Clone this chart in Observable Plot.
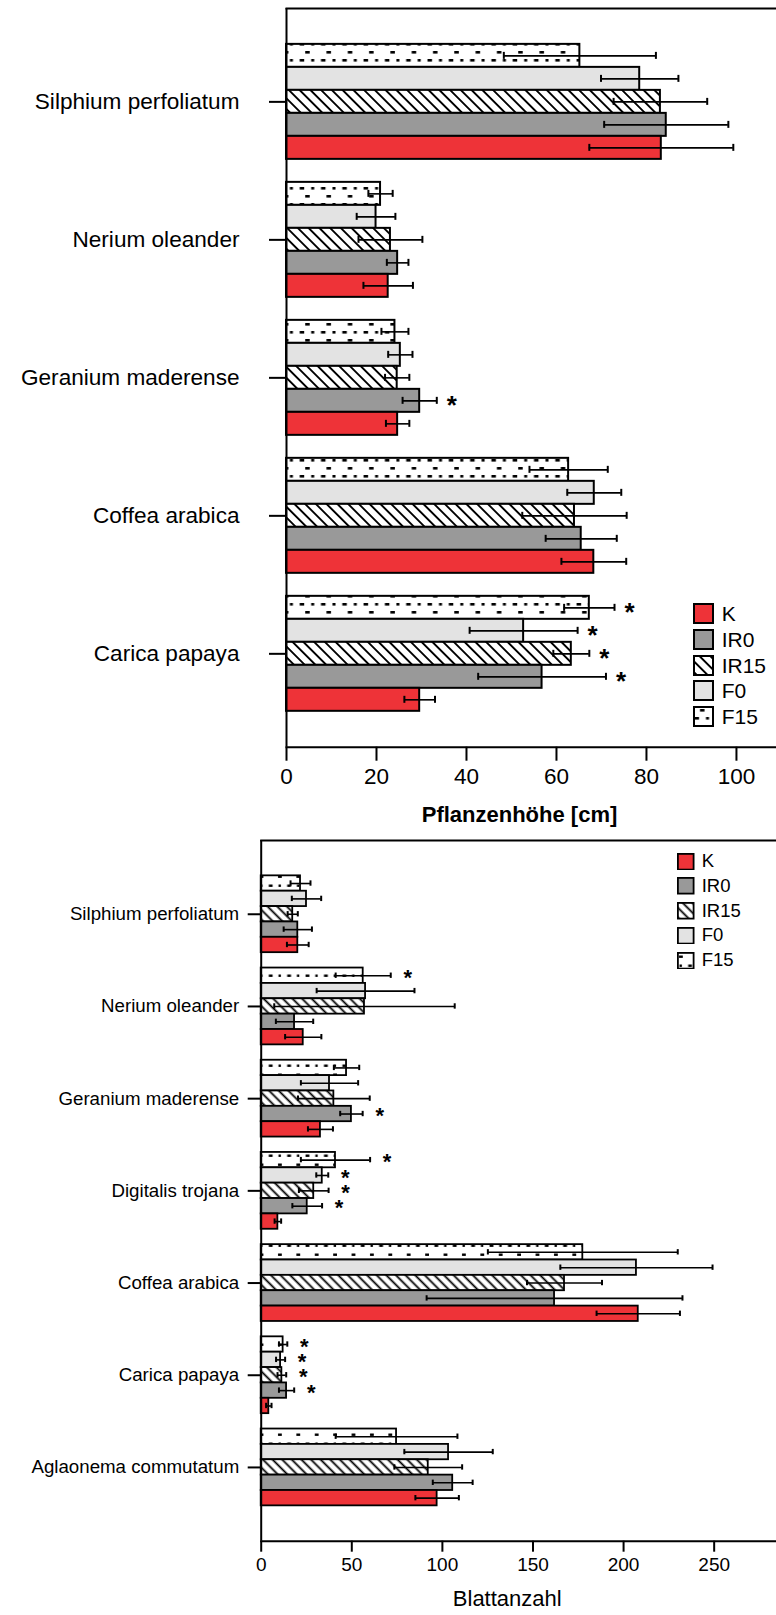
<!DOCTYPE html>
<html>
<head>
<meta charset="utf-8">
<script src="https://cdn.jsdelivr.net/npm/d3@7"></script>
<script src="https://cdn.jsdelivr.net/npm/@observablehq/plot@0.6"></script>
<style>
  html, body { margin: 0; padding: 0; background: #fff; }
  #wrap { position: relative; width: 776px; height: 1615px; font-family: "Liberation Sans", Arial, sans-serif; color: #000; }
  #wrap svg { display: block; }
  .leg { position: absolute; display: flex; align-items: center; white-space: nowrap; }
  .leg svg { display: block; }
</style>
</head>
<body>
<!-- shared fill patterns for the hatched and dotted treatments -->
<svg width="0" height="0" style="position:absolute">
  <defs>
    <pattern id="hatchA" patternUnits="userSpaceOnUse" width="7.6" height="7.6" patternTransform="rotate(-45)">
      <rect width="7.6" height="7.6" fill="#fff"/>
      <line x1="3.8" y1="0" x2="3.8" y2="7.6" stroke="#000" stroke-width="1.9"/>
    </pattern>
    <pattern id="dotsA" patternUnits="userSpaceOnUse" width="21.3" height="16">
      <rect width="21.3" height="16" fill="#fff"/>
      <rect x="7" y="3" width="4.5" height="2.6" fill="#000"/>
      <rect x="1.5" y="11" width="4.5" height="2.6" fill="#000"/>
      <rect x="13" y="11" width="3" height="2.6" fill="#000"/>
    </pattern>
    <pattern id="hatchB" patternUnits="userSpaceOnUse" width="6.8" height="6.8" patternTransform="rotate(-45)">
      <rect width="6.8" height="6.8" fill="#fff"/>
      <line x1="3.4" y1="0" x2="3.4" y2="6.8" stroke="#000" stroke-width="1.8"/>
    </pattern>
    <pattern id="dotsB" patternUnits="userSpaceOnUse" width="18.4" height="18">
      <rect width="18.4" height="18" fill="#fff"/>
      <rect x="2" y="3.5" width="3.8" height="2.4" fill="#000"/>
      <rect x="11.2" y="12.5" width="3.8" height="2.4" fill="#000"/>
      <rect x="2.5" y="12.5" width="2.4" height="2.4" fill="#000"/>
    </pattern>
  </defs>
</svg>
<div id="wrap"></div>
<script>
// Treatments: K = control, IR0/IR15, F0/F15
const treatments = ["K", "IR0", "IR15", "F0", "F15"];
// bars are stacked top-to-bottom in this order inside each species group
const barOrder = ["F15", "F0", "IR15", "IR0", "K"];

// ---- Pflanzenhöhe [cm] ----
const speciesHoehe = ["Silphium perfoliatum", "Nerium oleander", "Geranium maderense", "Coffea arabica", "Carica papaya"];
const hoeheK    = [83.3, 22.6, 24.7, 68.3, 29.6];
const hoeheIR0  = [84.4, 24.7, 29.6, 65.5, 56.8];
const hoeheIR15 = [83.1, 23.1, 24.6, 64.0, 63.3];
const hoeheF0   = [78.5, 19.9, 25.3, 68.4, 52.7];
const hoeheF15  = [65.2, 20.9, 24.1, 62.7, 67.3];
const hoeheSdK    = [16.0, 5.5, 2.6, 7.2, 3.4];
const hoeheSdIR0  = [13.8, 2.4, 3.8, 7.9, 14.2];
const hoeheSdIR15 = [10.4, 7.1, 2.7, 11.6, 4.0];
const hoeheSdF0   = [8.6, 4.3, 2.7, 6.0, 12.0];
const hoeheSdF15  = [16.9, 2.7, 3.0, 8.7, 5.6];
const hoeheSig = [
  ["Geranium maderense", "IR0"],
  ["Carica papaya", "F15"], ["Carica papaya", "F0"], ["Carica papaya", "IR15"], ["Carica papaya", "IR0"]
];
const hoeheTicks = [0, 20, 40, 60, 80, 100];

// ---- Blattanzahl ----
const speciesBlatt = ["Silphium perfoliatum", "Nerium oleander", "Geranium maderense", "Digitalis trojana", "Coffea arabica", "Carica papaya", "Aglaonema commutatum"];
const blattK    = [20.2, 23.2, 32.7, 9.2, 208.1, 4.2, 97.1];
const blattIR0  = [20.2, 18.4, 49.8, 25.4, 161.9, 14.0, 105.7];
const blattIR15 = [17.4, 57.0, 40.1, 29.0, 167.4, 11.4, 92.2];
const blattF0   = [25.0, 57.6, 37.7, 33.7, 207.1, 10.7, 103.4];
const blattF15  = [21.7, 56.3, 47.1, 41.0, 177.5, 12.1, 74.7];
const blattSdK    = [6.0, 10.0, 6.9, 1.8, 23.0, 1.5, 12.0];
const blattSdIR0  = [7.8, 10.3, 6.2, 8.2, 70.6, 4.2, 11.0];
const blattSdIR15 = [2.8, 49.8, 19.8, 8.2, 20.7, 2.4, 18.7];
const blattSdF0   = [8.1, 27.0, 15.8, 3.3, 42.0, 2.5, 24.4];
const blattSdF15  = [5.5, 15.2, 7.0, 19.1, 52.4, 2.3, 33.6];
const blattSig = [
  ["Nerium oleander", "F15"],
  ["Geranium maderense", "IR0"],
  ["Digitalis trojana", "F15"], ["Digitalis trojana", "F0"], ["Digitalis trojana", "IR15"], ["Digitalis trojana", "IR0"],
  ["Carica papaya", "F15"], ["Carica papaya", "F0"], ["Carica papaya", "IR15"], ["Carica papaya", "IR0"]
];
const blattTicks = [0, 50, 100, 150, 200, 250];

// ---- helpers ----
function buildRows(species, meansByT, sdsByT) {
  return species.flatMap((s, i) => barOrder.map(t => ({
    species: s, treatment: t, key: s + "|" + t,
    mean: meansByT[t][i], sd: sdsByT[t][i]
  })));
}
// band domain: one slot per bar, one empty slot between species groups
function buildDomain(species) {
  return species.flatMap((s, i) => (i ? ["gap" + i] : []).concat(barOrder.map(t => s + "|" + t)));
}

const fillsA = ["#ee3338", "#999999", "url(#hatchA)", "#e3e3e3", "url(#dotsA)"];
const fillsB = ["#ee3338", "#999999", "url(#hatchB)", "#e3e3e3", "url(#dotsB)"];
const font = "'Liberation Sans', Arial, Helvetica, sans-serif";

function chart(cfg) {
  const rows = buildRows(cfg.species, cfg.means, cfg.sds);
  const sig = rows.filter(r => cfg.sig.some(([s, t]) => s === r.species && t === r.treatment));
  return Plot.plot({
    width: 776, height: cfg.height,
    marginTop: cfg.marginTop, marginBottom: cfg.marginBottom,
    marginLeft: cfg.marginLeft, marginRight: 0,
    style: {fontFamily: font, color: "#000", background: "transparent", overflow: "visible"},
    x: {domain: cfg.xDomain},
    y: {domain: buildDomain(cfg.species), paddingInner: 0, paddingOuter: cfg.padOuter, round: false},
    color: {type: "ordinal", domain: treatments, range: cfg.fills},
    marks: [
      Plot.barX(rows, {y: "key", x: "mean", fill: "treatment", stroke: "#000", strokeWidth: cfg.barStroke}),
      Plot.ruleY(rows, {y: "key", x1: d => d.mean - d.sd, x2: d => d.mean + d.sd, stroke: "#000", strokeWidth: 1.6}),
      Plot.tickX(rows, {y: "key", x: d => d.mean - d.sd, insetTop: cfg.capInset, insetBottom: cfg.capInset, stroke: "#000", strokeWidth: 2}),
      Plot.tickX(rows, {y: "key", x: d => d.mean + d.sd, insetTop: cfg.capInset, insetBottom: cfg.capInset, stroke: "#000", strokeWidth: 2}),
      Plot.text(sig, {y: "key", x: d => d.mean + d.sd, text: () => "*", dx: cfg.starDx, dy: cfg.starDy,
        fontSize: cfg.starSize, fontWeight: "bold", fill: "#000"}),
      Plot.ruleX([0], {stroke: "#000", strokeWidth: 2}),
      Plot.frame({anchor: "top", stroke: "#000", strokeWidth: 2}),
      Plot.frame({anchor: "bottom", stroke: "#000", strokeWidth: 2}),
      Plot.axisX({ticks: cfg.ticks, tickSize: cfg.xTickSize, tickPadding: cfg.xTickPadding,
        fontSize: cfg.xFont, label: null, strokeWidth: 2}),
      Plot.axisY({ticks: cfg.species.map(s => s + "|IR15"), tickFormat: k => k.split("|")[0],
        tickSize: cfg.yTickSize, tickPadding: cfg.yTickPadding, fontSize: cfg.yFont, label: null, strokeWidth: 2}),
      Plot.text([cfg.title], {text: d => d, frameAnchor: "bottom", dx: cfg.titleDx, dy: cfg.titleDy,
        fontSize: 22, fontWeight: cfg.titleWeight, fill: "#000"})
    ]
  });
}

const wrap = document.getElementById("wrap");

wrap.append(chart({
  species: speciesHoehe,
  means: {K: hoeheK, IR0: hoeheIR0, IR15: hoeheIR15, F0: hoeheF0, F15: hoeheF15},
  sds: {K: hoeheSdK, IR0: hoeheSdIR0, IR15: hoeheSdIR15, F0: hoeheSdF0, F15: hoeheSdF15},
  sig: hoeheSig, ticks: hoeheTicks, fills: fillsA,
  height: 836, marginTop: 8, marginBottom: 89.3, marginLeft: 286,
  xDomain: [0, 108.9], padOuter: 1.56, barStroke: 2, capInset: 8,
  starDx: 15, starDy: 5, starSize: 26,
  xTickSize: 14, xTickPadding: 7, xFont: 22.5,
  yTickSize: 17, yTickPadding: 30, yFont: 22.6,
  title: "Pflanzenhöhe [cm]", titleDx: -12, titleDy: 75, titleWeight: "bold"
}));

wrap.append(chart({
  species: speciesBlatt,
  means: {K: blattK, IR0: blattIR0, IR15: blattIR15, F0: blattF0, F15: blattF15},
  sds: {K: blattSdK, IR0: blattSdIR0, IR15: blattSdIR15, F0: blattSdF0, F15: blattSdF15},
  sig: blattSig, ticks: blattTicks, fills: fillsB,
  height: 779, marginTop: 4, marginBottom: 74.3, marginLeft: 260.7,
  xDomain: [0, 284.4], padOuter: 2.3, barStroke: 1.8, capInset: 5,
  starDx: 17, starDy: 2, starSize: 22,
  xTickSize: 11, xTickPadding: 5, xFont: 19,
  yTickSize: 13, yTickPadding: 9, yFont: 18.7,
  title: "Blattanzahl", titleDx: -11.6, titleDy: 64.3, titleWeight: "normal"
}));

// legends drawn inside the plot areas
function legend(fills, left, top, step, box, stroke, labelLeft, fontSize) {
  treatments.forEach((t, i) => {
    const item = document.createElement("div");
    item.className = "leg";
    item.style.left = left + "px";
    item.style.top = (top + i * step) + "px";
    item.style.height = box + "px";
    item.innerHTML =
      `<svg width="${box}" height="${box}"><rect x="${stroke / 2}" y="${stroke / 2}" width="${box - stroke}" height="${box - stroke}" fill="${fills[i]}" stroke="#000" stroke-width="${stroke}"/></svg>` +
      `<span style="margin-left:${labelLeft - left - box}px;font-size:${fontSize}px;line-height:1">${t}</span>`;
    wrap.append(item);
  });
}
legend(fillsA, 693.3, 603.3, 25.6, 21, 2, 721.7, 21);
legend(fillsB, 677.3, 852.7, 24.75, 17.5, 1.8, 701.7, 18.5);
</script>
</body>
</html>
